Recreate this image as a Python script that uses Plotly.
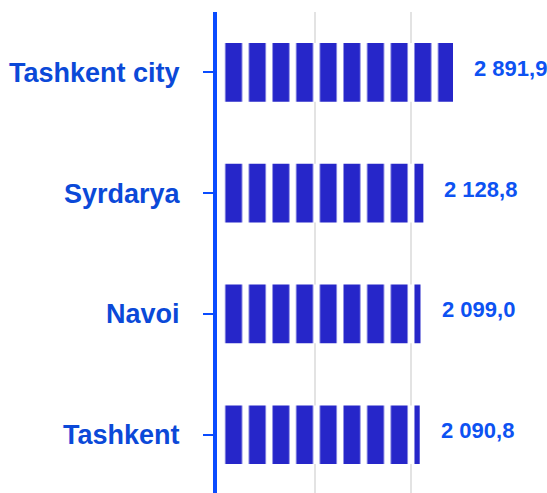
import plotly.graph_objects as go

# ---- data ----
regions = ["Tashkent city", "Syrdarya", "Navoi", "Tashkent"]
values = [2891.9, 2128.8, 2099.0, 2090.8]
grid_ticks = [1000, 2000]

# ---- style ----
BAR_COLOR = "#2626c9"
AXIS_COLOR = "#0a4cff"
LABEL_COLOR = "#0b49d8"
VALUE_COLOR = "#0d52f2"
FONT = "Liberation Sans, Arial, sans-serif"

W, H = 547, 493
X_RANGE = [-93.75, 2437.5]


def fmt(v):
    return f"{v:,.1f}".replace(",", " ").replace(".", ",")


fig = go.Figure()
fig.add_trace(go.Bar(
    y=regions,
    x=values,
    orientation="h",
    width=0.485,
    marker=dict(
        color=BAR_COLOR,
        line=dict(width=0),
        pattern=dict(shape="|", fillmode="overlay", fgcolor="white",
                     fgopacity=1, size=23.65, solidity=0.29),
    ),
    hoverinfo="skip",
    showlegend=False,
))

for r, v in zip(regions, values):
    fig.add_annotation(
        x=min(v, X_RANGE[1]), y=r, xref="x", yref="y",
        text=fmt(v), showarrow=False, xanchor="left", yanchor="middle",
        xshift=19, yshift=4,
        font=dict(family=FONT, size=22, color=VALUE_COLOR, weight="bold"),
    )

fig.update_layout(
    width=W, height=H,
    margin=dict(l=0, r=0, t=12, b=0, pad=0),
    paper_bgcolor="white", plot_bgcolor="white",
    xaxis=dict(
        domain=[210 / W, 453 / W],
        range=X_RANGE,
        tickvals=grid_ticks,
        showticklabels=False,
        showgrid=True, gridcolor="#e3e3e3", gridwidth=1.5,
        zeroline=False, showline=False, ticks="",
    ),
    yaxis=dict(
        categoryorder="array", categoryarray=regions,
        range=[3.483, -0.5],
        anchor="free", position=215 / W,
        showline=True, linecolor=AXIS_COLOR, linewidth=4,
        ticks="outside", ticklen=10, tickwidth=1.5, tickcolor=AXIS_COLOR,
        ticklabelstandoff=18,
        tickfont=dict(family=FONT, size=27, color=LABEL_COLOR, weight="bold"),
        showgrid=False, zeroline=False,
    ),
)

fig.write_html(
    "out.html",
    config={"displayModeBar": False},
    post_script="document.body.style.margin='0';document.body.style.overflow='hidden';",
)
